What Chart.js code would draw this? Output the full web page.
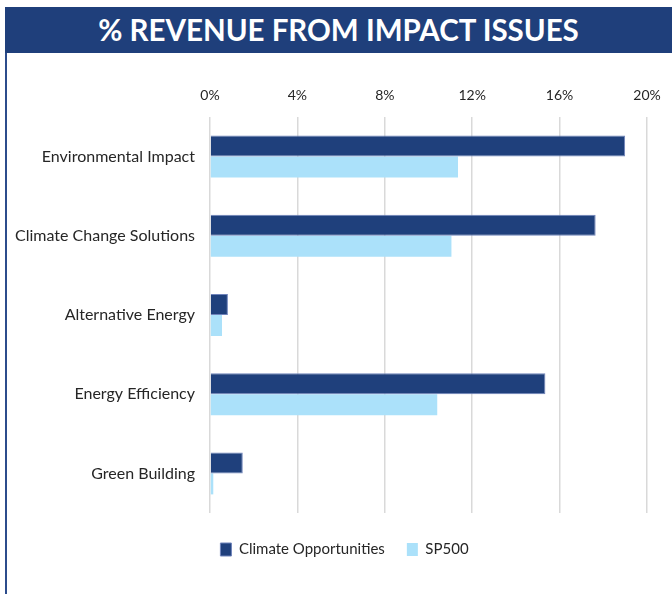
<!DOCTYPE html>
<html>
<head>
<meta charset="utf-8">
<script src="https://cdn.jsdelivr.net/npm/chart.js@4"></script>
<style>
  html, body { margin: 0; padding: 0; background: #fff; }
  body { width: 672px; height: 594px; position: relative; overflow: hidden; }
  #banner {
    position: absolute; left: 5px; top: 7px; width: 667px; height: 46px;
    background: #1f3f7b; color: #fff;
    font: bold 29.5px Lato, "Open Sans", sans-serif;
    text-align: center; line-height: 46px;
  }
  #edge { position: absolute; left: 5px; top: 53px; width: 2px; height: 541px; background: #2c4c8c; }
  #chart { position: absolute; left: 0; top: 0; }
</style>
</head>
<body>
<canvas id="chart" width="672" height="594"></canvas>
<div id="banner">% REVENUE FROM IMPACT ISSUES</div>
<div id="edge"></div>
<script>
// values, in percent
const categories = ['Environmental Impact', 'Climate Change Solutions', 'Alternative Energy', 'Energy Efficiency', 'Green Building'];
const climateOpportunities = [19.0, 17.65, 0.82, 15.35, 1.5];
const sp500 = [11.35, 11.05, 0.55, 10.4, 0.15];
const xTicks = [0, 4, 8, 12, 16, 20];

// nudge the legend so it sits centred under the whole figure like the original
const legendNudge = {
    id: 'legendNudge',
    afterLayout(chart) {
        const lg = chart.legend;
        if (!lg) return;
        lg.left += 16; lg.right += 16;
        lg.top += 7; lg.bottom += 7;
    }
};

const ctx = document.getElementById('chart');
new Chart(ctx, {
    type: 'bar',
    data: {
        labels: categories,
        datasets: [{
            label: 'Climate Opportunities',
            data: climateOpportunities,
            backgroundColor: '#1f407c',
            borderColor: '#6f83bb',
            borderWidth: 1,
            borderSkipped: 'start'
        }, {
            label: 'SP500',
            data: sp500,
            backgroundColor: '#abe1fa',
            borderWidth: 0
        }]
    },
    options: {
        indexAxis: 'y',
        responsive: false,
        animation: false,
        maintainAspectRatio: false,
        datasets: { bar: { categoryPercentage: 0.53, barPercentage: 1 } },
        layout: { padding: { left: 10, right: 25, top: 70, bottom: 34 } },
        scales: {
            x: {
                position: 'top',
                min: 0,
                max: 20,
                afterBuildTicks: (scale) => { scale.ticks = xTicks.map(v => ({ value: v })); },
                afterFit: (scale) => {
                    scale.height = 47;
                    scale.paddingLeft = 0;
                    scale.paddingRight = 14;
                },
                grid: { color: '#d9d9d9', lineWidth: 1.5, drawTicks: false },
                border: { display: false },
                ticks: {
                    padding: 13,
                    color: '#262626',
                    font: { family: 'Lato', size: 14 },
                    callback: (v) => v + '%'
                }
            },
            y: {
                afterFit: (scale) => { scale.width = 200; },
                grid: { display: false, drawTicks: false },
                border: { display: false },
                ticks: {
                    padding: 15,
                    color: '#262626',
                    font: { family: 'Lato', size: 16 }
                }
            }
        },
        plugins: {
            legend: {
                position: 'bottom',
                labels: {
                    boxWidth: 11,
                    boxHeight: 13,
                    padding: 22,
                    color: '#262626',
                    font: { family: 'Lato', size: 15 }
                }
            },
            tooltip: { enabled: false }
        }
    },
    plugins: [legendNudge]
});
</script>
</body>
</html>
